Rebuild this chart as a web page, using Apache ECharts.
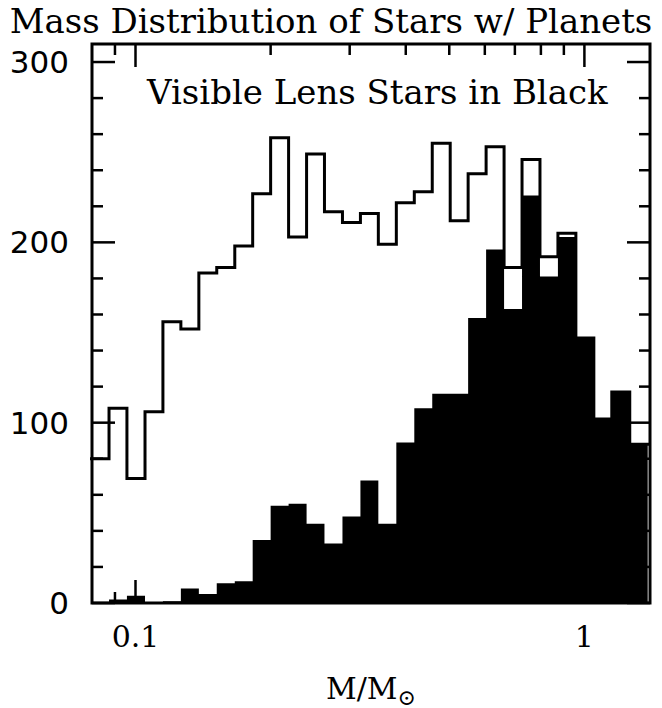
<!DOCTYPE html>
<html>
<head>
<meta charset="utf-8">
<script src="https://cdn.jsdelivr.net/npm/echarts@6/dist/echarts.min.js"></script>
<style>
  html, body { margin: 0; padding: 0; background: #fff; }
  #chart { width: 662px; height: 708px; }
</style>
</head>
<body>
<div id="chart"></div>
<script>
// Histogram bin edges in solar masses (equal steps in log M)
const binEdges = [0.0796, 0.0873, 0.0957, 0.1050, 0.1151, 0.1262, 0.1384, 0.1517, 0.1664, 0.1824,
                  0.2000, 0.2193, 0.2405, 0.2636, 0.2891, 0.3170, 0.3475, 0.3811, 0.4179, 0.4582,
                  0.5024, 0.5508, 0.6040, 0.6623, 0.7262, 0.7962, 0.8730, 0.9572, 1.0496, 1.1508,
                  1.2619, 1.3836];

// Counts per bin: all host stars (outline) and visible lens stars (filled)
const allStars = [80, 108, 69, 106, 156, 152, 183, 186, 198, 227,
                  258, 203, 249, 217, 211, 216, 199, 222, 228, 255,
                  212, 238, 253, 186, 246, 192, 205, 147, 102, 117, 88];
const visibleLens = [0, 2, 4, 0, 1, 8, 5, 11, 12, 35,
                     54, 55, 44, 33, 48, 68, 44, 89, 108, 116,
                     116, 158, 196, 163, 226, 181, 203, 147, 102, 117, 88];

// Axis tick values
const xMajorTicks = [0.1, 1];
const xMinorTicks = [0.09, 0.2, 0.3, 0.4, 0.5, 0.6, 0.7, 0.8, 0.9];
const yMajorTicks = [0, 100, 200, 300];
const yMinorTicks = [20, 40, 60, 80, 120, 140, 160, 180, 220, 240, 260, 280];

const X_MIN = 0.08, X_MAX = 1.4, Y_MIN = 0, Y_MAX = 310;
const MAJOR_LEN = 23, MINOR_LEN = 11;

const chart = echarts.init(document.getElementById('chart'), null, { renderer: 'svg' });

// step points: each bin's count starts at its lower edge; the last count is repeated at the top edge
const toSteps = counts => binEdges.map((e, i) => [e, counts[Math.min(i, counts.length - 1)]]);
const xTickData = xMajorTicks.map(v => [v, 1]).concat(xMinorTicks.map(v => [v, 0]));
const yTickData = yMajorTicks.map(v => [v, 1]).concat(yMinorTicks.map(v => [v, 0]));

const tickStyle = { stroke: '#000', lineWidth: 2.5 };
const serif = 'DejaVu Serif';

chart.setOption({
  animation: false,
  backgroundColor: '#fff',
  title: [
    {
      text: 'Mass Distribution of Stars w/ Planets',
      left: 'center', top: 4, padding: 0,
      textStyle: { fontFamily: serif, fontSize: 34, fontWeight: 'normal', color: '#000' }
    },
    {
      text: 'Visible Lens Stars in Black',
      left: 147, top: 75, padding: 0,
      textStyle: { fontFamily: serif, fontSize: 34, fontWeight: 'normal', color: '#000' }
    }
  ],
  grid: {
    left: 92, right: 12, top: 44, bottom: 105,
    outerBoundsMode: 'none', containLabel: false,
    show: true, borderColor: '#000', borderWidth: 3, backgroundColor: 'transparent'
  },
  xAxis: {
    type: 'log', logBase: 10, min: X_MIN, max: X_MAX,
    axisLine: { show: false }, axisTick: { show: false }, splitLine: { show: false },
    axisLabel: {
      margin: 18, color: '#000', fontFamily: serif, fontSize: 30,
      formatter: v => {
        const r = Math.log10(v);
        return Math.abs(r - Math.round(r)) < 1e-6 ? String(+v.toPrecision(6)) : '';
      }
    },
    name: '{m|M/M}{s|⊙}',
    nameLocation: 'middle', nameGap: 65,
    nameTextStyle: {
      rich: {
        m: { fontFamily: serif, fontSize: 30, color: '#000' },
        s: { fontFamily: serif, fontSize: 22, color: '#000', padding: [18, 0, 0, 0] }
      }
    }
  },
  yAxis: {
    type: 'value', min: Y_MIN, max: Y_MAX, interval: 100,
    axisLine: { show: false }, axisTick: { show: false }, splitLine: { show: false },
    axisLabel: {
      margin: 23, color: '#000', fontFamily: 'DejaVu Sans', fontSize: 31,
      formatter: v => (v % 100 === 0 ? String(v) : '')
    }
  },
  series: [
    {
      // filled histogram of visible lens stars
      type: 'line', step: 'end', z: 2,
      data: toSteps(visibleLens), showSymbol: false, clip: true,
      lineStyle: { width: 0 },
      areaStyle: { color: '#000', opacity: 1 }
    },
    {
      // outline histogram of all stars with planets
      type: 'line', step: 'end', z: 3,
      data: toSteps(allStars), showSymbol: false, clip: true,
      lineStyle: { color: '#000', width: 3, join: 'miter', cap: 'square' }
    },
    {
      // x-axis ticks on bottom and top frame
      type: 'custom', z: 4, encode: { x: 0 },
      data: xTickData,
      renderItem: (params, api) => {
        const v = api.value(0);
        const len = api.value(1) ? MAJOR_LEN : MINOR_LEN;
        const b = api.coord([v, Y_MIN]);
        const t = api.coord([v, Y_MAX]);
        return {
          type: 'group',
          children: [
            { type: 'line', shape: { x1: b[0], y1: b[1], x2: b[0], y2: b[1] - len }, style: tickStyle },
            { type: 'line', shape: { x1: t[0], y1: t[1], x2: t[0], y2: t[1] + len }, style: tickStyle }
          ]
        };
      }
    },
    {
      // y-axis ticks on left and right frame
      type: 'custom', z: 4, encode: { y: 0 },
      data: yTickData,
      renderItem: (params, api) => {
        const v = api.value(0);
        const len = api.value(1) ? MAJOR_LEN : MINOR_LEN;
        const l = api.coord([X_MIN, v]);
        const r = api.coord([X_MAX, v]);
        return {
          type: 'group',
          children: [
            { type: 'line', shape: { x1: l[0], y1: l[1], x2: l[0] + len, y2: l[1] }, style: tickStyle },
            { type: 'line', shape: { x1: r[0], y1: r[1], x2: r[0] - len, y2: r[1] }, style: tickStyle }
          ]
        };
      }
    }
  ]
});
</script>
</body>
</html>
